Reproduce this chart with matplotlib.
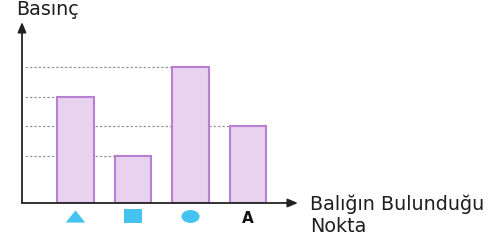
import matplotlib.pyplot as plt
from matplotlib.path import Path
from matplotlib.transforms import Affine2D

# bar heights (arbitrary pressure units)
points = ['triangle', 'square', 'circle', 'A']
pressure = [3.6, 1.6, 4.6, 2.6]
xpos = [0, 1, 2, 3]

plt.rcParams['font.family'] = ['DejaVu Sans']

fig = plt.figure(figsize=(5.02, 2.40), dpi=100)
# axes placed in pixel terms: left 22, right 298, bottom 203, top 22
ax = fig.add_axes([22 / 502, 37 / 240, 276 / 502, 181 / 240])
ax.set_xlim(-0.93, 3.87)
ax.set_ylim(0, 6.14)

bar_fill = '#e8d2ee'
bar_edge = '#b87fd3'
cyan = '#45c3f0'

ax.bar(xpos, pressure, width=0.63, color=bar_fill, edgecolor=bar_edge,
       linewidth=1.5, zorder=3)

# dotted guide lines from the axis to each bar's left edge
for x, h in zip(xpos, pressure):
    ax.plot([-0.88, x - 0.315], [h, h], linestyle=(0, (2, 1.5)), color='#999999',
            linewidth=0.9, zorder=2)

for s in ax.spines.values():
    s.set_visible(False)
ax.set_xticks([])
ax.set_yticks([])

# axes with arrows
arrow = dict(arrowstyle='-|>,head_length=0.6,head_width=0.25', color='#222222', lw=1.3,
             shrinkA=0, shrinkB=0)
ax.annotate('', xy=(1, 0), xytext=(0, 0), xycoords='axes fraction',
            arrowprops=arrow, annotation_clip=False)
ax.annotate('', xy=(0, 1), xytext=(0, 0), xycoords='axes fraction',
            arrowprops=arrow, annotation_clip=False)

# category symbols under the x axis (the picture is stretched sideways)
tri = Path([(-0.8, -0.5), (0.8, -0.5), (0, 0.5), (-0.8, -0.5)])
sq = Path([(-0.66, -0.5), (0.66, -0.5), (0.66, 0.5), (-0.66, 0.5), (-0.66, -0.5)])
circ = Affine2D().scale(1.4, 1).transform_path(Path.unit_circle())
symbols = [(tri, 14), (sq, 12.5), (circ, 13), None]

trans = ax.get_xaxis_transform()
for x, sym in zip(xpos, symbols):
    if sym is None:
        ax.text(x, -0.11, points[x], transform=trans, ha='center', va='baseline',
                fontsize=11, color='#111111', fontweight='bold')
    else:
        ax.plot([x], [-0.07], marker=sym[0], markersize=sym[1], color=cyan,
                markeredgewidth=0, transform=trans, clip_on=False, linestyle='none')

fig.text(16 / 502, 1 - 15 / 240, 'Basınç', ha='left', va='baseline', fontsize=13.8,
         color='#1e1e1e')
fig.text(310 / 502, 1 - 210 / 240, 'Balığın Bulunduğu', ha='left', va='baseline',
         fontsize=13.8, color='#1e1e1e')
fig.text(310 / 502, 1 - 232 / 240, 'Nokta', ha='left', va='baseline', fontsize=13.8,
         color='#1e1e1e')

fig.savefig('out.png', dpi=100)
